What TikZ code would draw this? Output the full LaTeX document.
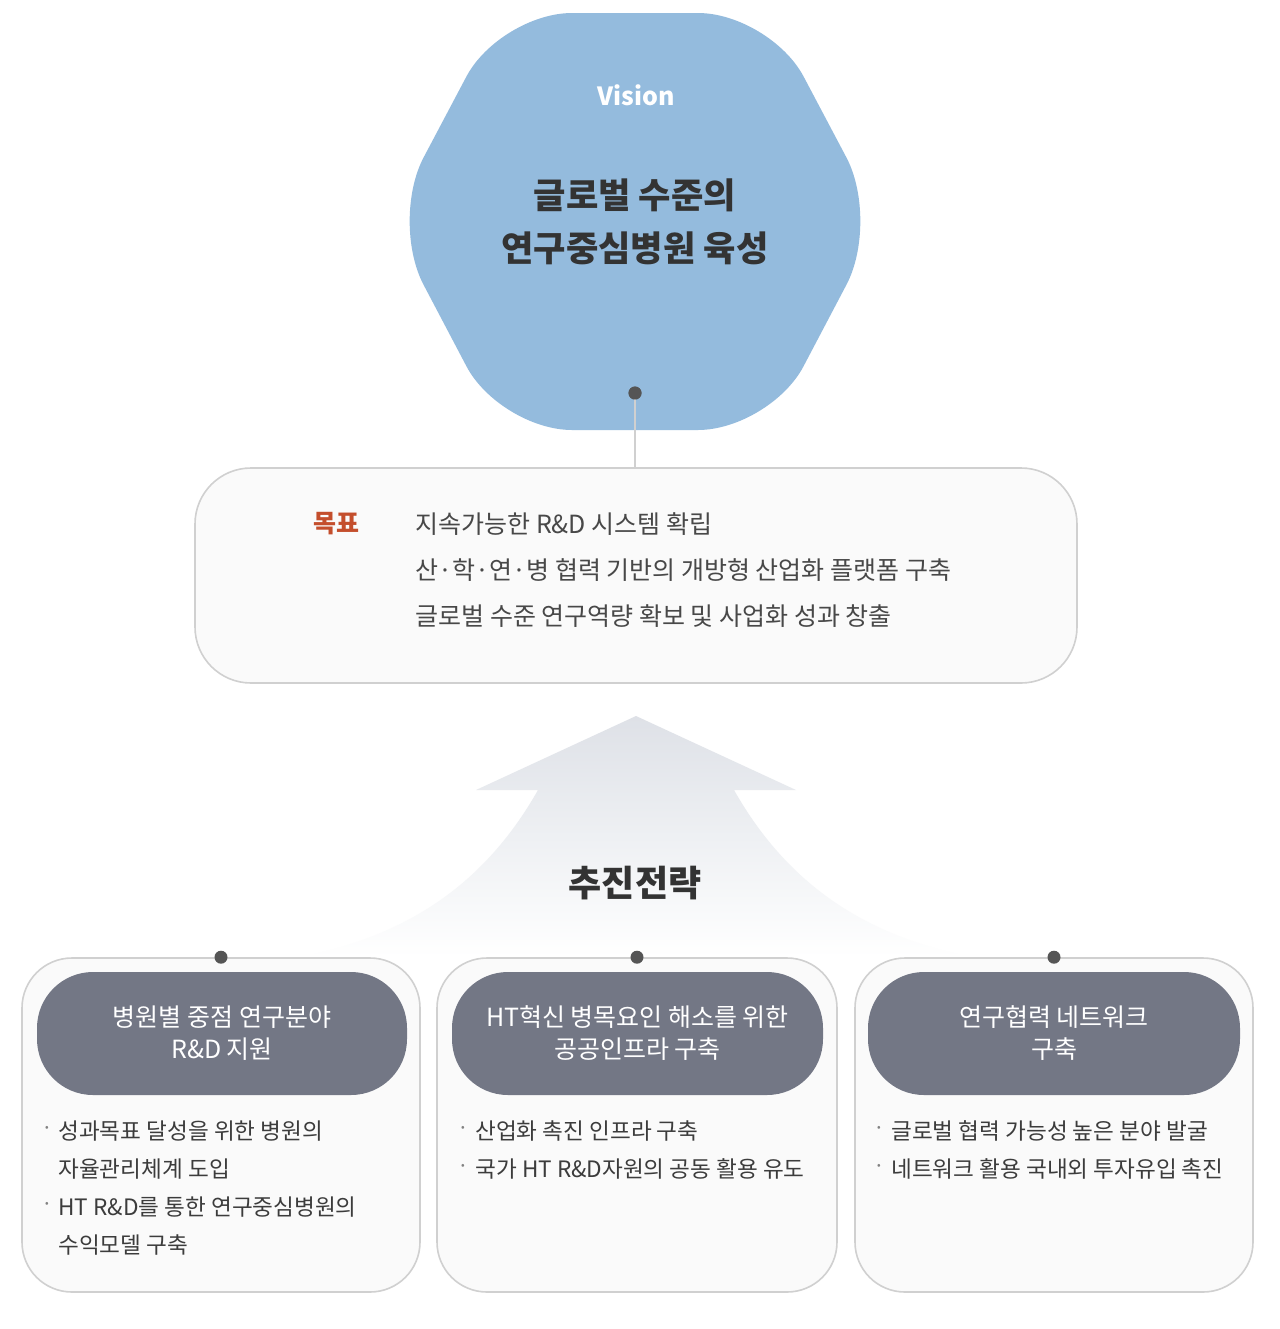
\documentclass[tikz,border=0pt]{standalone}
\usepackage{fontspec}
\setmainfont{Noto Sans CJK KR}
\usetikzlibrary{positioning}
\definecolor{visionblue}{RGB}{148,187,221}
\definecolor{titlegray}{RGB}{51,51,51}
\definecolor{goaltext}{RGB}{72,72,72}
\definecolor{goalred}{RGB}{196,78,44}
\definecolor{cardfill}{RGB}{250,250,250}
\definecolor{cardline}{RGB}{208,208,208}
\definecolor{headfill}{RGB}{115,119,133}
\definecolor{dotgray}{RGB}{85,85,85}
\definecolor{bodytext}{RGB}{60,60,60}
\definecolor{bulletgray}{RGB}{130,130,130}
\definecolor{arrowtop}{RGB}{222,225,231}
\begin{document}
\begin{tikzpicture}[x=0.5pt,y=-0.5pt,
  cardbox/.style={draw=cardline, line width=0.8pt, fill=cardfill, rounded corners=25pt, inner sep=0pt},
  goalbox/.style={draw=cardline, line width=0.8pt, fill=cardfill, rounded corners=28pt, inner sep=0pt},
  headbox/.style={fill=headfill, rounded corners=28pt, inner sep=0pt, minimum height=61.5pt,
     text=white, align=center, font=\fontsize{12.5}{16}\selectfont},
  dotnode/.style={circle, fill=dotgray, inner sep=0pt, minimum size=6.5pt},
  goaltxt/.style={anchor=west, inner sep=0pt, text=goaltext, font=\fontsize{12.5}{14}\selectfont},
  bodytxt/.style={anchor=west, inner sep=0pt, text=bodytext, font=\fontsize{11.3}{13}\selectfont},
  bulletn/.style={inner sep=0pt, text=bulletgray, font=\fontsize{10.5}{13}\selectfont}
]
\useasboundingbox (0,0) rectangle (1280,1329);
\fill[white] (0,0) rectangle (1280,1329);

% Vision hexagon
\fill[visionblue, rounded corners=36pt] (390,221) -- (500,13) -- (770,13) -- (880,221) -- (770,430) -- (500,430) -- cycle;
\node[text=white, font=\bfseries\fontsize{12.5}{15}\selectfont] (vis) at (636,95) {Vision};
\node[text=titlegray, align=center, font=\bfseries\fontsize{17.6}{26.5}\selectfont] (vtitle) at (635,222) {글로벌 수준의\\연구중심병원 육성};
\node[dotnode] (vdot) at (635,393) {};

% Goal box
\node[goalbox, minimum width=441pt, minimum height=107.5pt] (goal) at (636,575.5) {};
\draw[cardline, line width=0.8pt] (vdot.center) -- (goal.north -| vdot.center);
\node[dotnode] at (vdot) {};
\node[text=goalred, inner sep=0pt, font=\bfseries\fontsize{12.5}{14}\selectfont] (mokpyo) at (336,524) {목표};
\node[goaltxt] (g1) at (415,524) {지속가능한 R\&D 시스템 확립};
\node[goaltxt] (g2) at (415,570) {산·학·연·병 협력 기반의 개방형 산업화 플랫폼 구축};
\node[goaltxt] (g3) at (415,616) {글로벌 수준 연구역량 확보 및 사업화 성과 창출};

% Big arrow
\shade[top color=arrowtop, bottom color=white, middle color={rgb,255:red,238;green,240;blue,243}]
  (636,716) -- (796,790) -- (734,790) .. controls (785,880) and (860,935) .. (972,957)
  -- (300,957) .. controls (412,935) and (487,880) .. (538,790) -- (476,790) -- cycle;
\node[text=titlegray, font=\bfseries\fontsize{18}{20}\selectfont] (strat) at (635,883) {추진전략};

% Cards
\node[cardbox, minimum width=199pt, minimum height=167pt] (c1) at (221,1125) {};
\node[cardbox, minimum width=200pt, minimum height=167pt] (c2) at (637,1125) {};
\node[cardbox, minimum width=199pt, minimum height=167pt] (c3) at (1054,1125) {};
\node[dotnode] (d1) at (c1.north) {};
\node[dotnode] (d2) at (c2.north) {};
\node[dotnode] (d3) at (c3.north) {};

\node[headbox, minimum width=185pt] (h1) at (222,1033.5) {병원별 중점 연구분야\\R\&D 지원};
\node[headbox, minimum width=185.5pt] (h2) at (637.5,1033.5) {HT혁신 병목요인 해소를 위한\\공공인프라 구축};
\node[headbox, minimum width=186pt] (h3) at (1054,1033.5) {연구협력 네트워크\\구축};

% Card 1 body
\node[bulletn] (b11) at (47,1131) {·};
\node[bodytxt] (t11) at (58,1131) {성과목표 달성을 위한 병원의};
\node[bodytxt] (t12) at (58,1169) {자율관리체계 도입};
\node[bulletn] (b12) at (47,1207) {·};
\node[bodytxt] (t13) at (58,1207) {HT R\&D를 통한 연구중심병원의};
\node[bodytxt] (t14) at (58,1245) {수익모델 구축};

% Card 2 body
\node[bulletn] (b21) at (463,1131) {·};
\node[bodytxt] (t21) at (475,1131) {산업화 촉진 인프라 구축};
\node[bulletn] (b22) at (463,1169) {·};
\node[bodytxt] (t22) at (475,1169) {국가 HT R\&D자원의 공동 활용 유도};

% Card 3 body
\node[bulletn] (b31) at (879,1131) {·};
\node[bodytxt] (t31) at (891,1131) {글로벌 협력 가능성 높은 분야 발굴};
\node[bulletn] (b32) at (879,1169) {·};
\node[bodytxt] (t32) at (891,1169) {네트워크 활용 국내외 투자유입 촉진};
\end{tikzpicture}
\end{document}
